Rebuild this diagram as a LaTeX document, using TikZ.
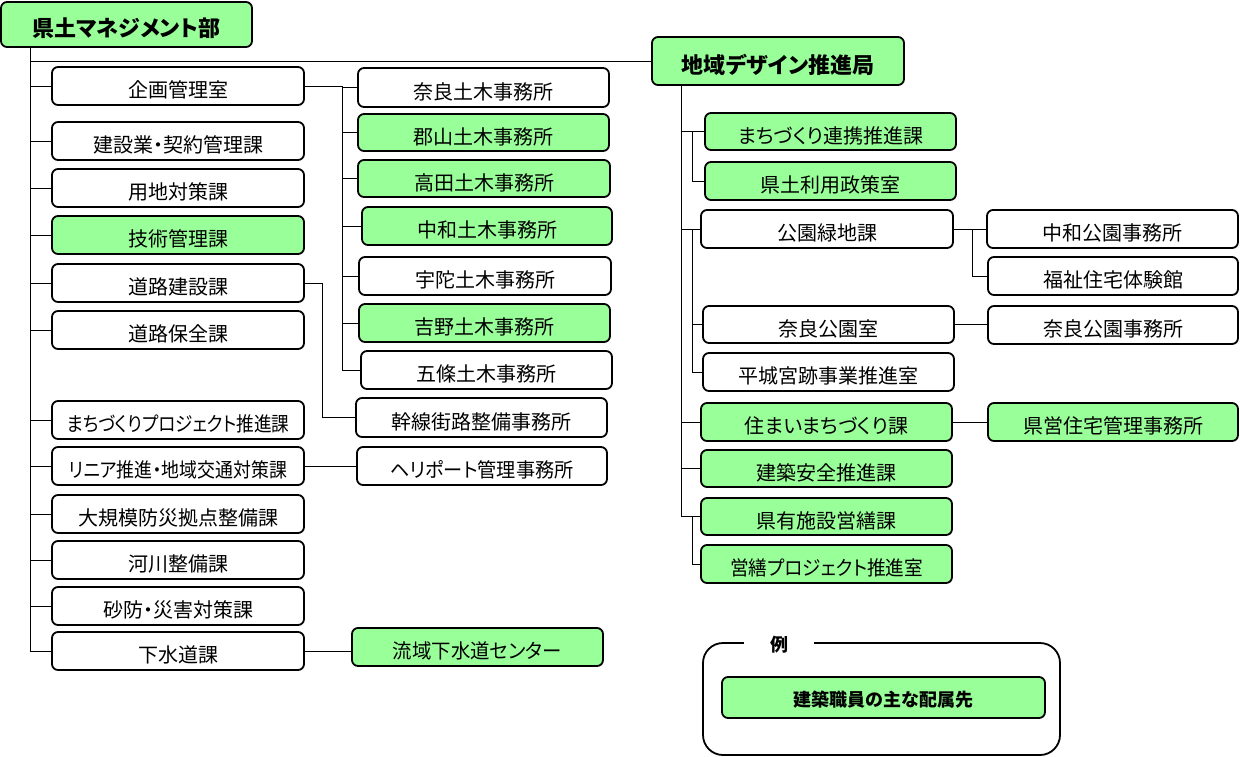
\documentclass[tikz,border=0pt]{standalone}
\usepackage{graphicx}
\usepackage{fontspec}
\setmainfont{Noto Sans CJK JP}[RawFeature={+palt}]
\definecolor{grn}{RGB}{153,255,153}
\tikzset{
  obx/.style={draw=black, line width=1.8pt, rounded corners=6pt, inner sep=0pt, fill=white,
    font=\fontsize{20}{24}\selectfont},
  gbx/.style={obx, fill=grn},
  hbx/.style={gbx, font=\fontsize{22}{26}\selectfont\bfseries},
  conn/.style={line width=1pt, line cap=rect},
}
\newsavebox\myfitbox
\newcommand\fitw[2]{\sbox\myfitbox{#2}\ifdim\wd\myfitbox>#1\relax\resizebox{#1}{\ht\myfitbox}{\usebox\myfitbox}\else\usebox\myfitbox\fi}
\newcommand\obox[7]{\node[#6, minimum width={#4-#2}, minimum height={#5-#3}] (#1) at ({(#2+#4)/2},{(#3+#5)/2}) {\raisebox{-4pt}[\height][\depth]{#7}};}
\begin{document}
\begin{tikzpicture}[x=1pt,y=-1pt]
\useasboundingbox (0,0) rectangle (1240,756);
\coordinate (trunkL) at (30,0);
\coordinate (midA) at (342,0);
\coordinate (midB) at (322,0);
\coordinate (trunkR) at (681,0);
\coordinate (subR) at (692,0);
\coordinate (farR) at (972,0);
% title
\obox{title}{1}{2}{252}{47}{hbx}{県土マネジメント部}
\obox{chiiki}{652}{37}{904}{85}{hbx}{地域デザイン推進局}
% left column
\obox{kikaku}{52}{67}{304}{105}{obx}{企画管理室}
\obox{kensetsu}{52}{122}{304}{160}{obx}{建設業・契約管理課}
\obox{youchi}{52}{169}{304}{207}{obx}{用地対策課}
\obox{gijutsu}{52}{216}{304}{254}{gbx}{技術管理課}
\obox{douro}{52}{264}{304}{302}{obx}{道路建設課}
\obox{hozen}{52}{311}{304}{349}{obx}{道路保全課}
\obox{machi}{52}{401}{304}{439}{obx}{\fitw{223pt}{まちづくりプロジェクト推進課}}
\obox{linear}{52}{447}{304}{485}{obx}{\fitw{218pt}{リニア推進・地域交通対策課}}
\obox{bousai}{52}{495}{304}{533}{obx}{大規模防災拠点整備課}
\obox{kasen}{52}{541}{304}{579}{obx}{河川整備課}
\obox{sabou}{52}{587}{304}{625}{obx}{砂防・災害対策課}
\obox{gesui}{52}{632}{304}{670}{obx}{下水道課}
% middle column
\obox{nara}{358}{68}{609}{107}{obx}{奈良土木事務所}
\obox{kooriyama}{358}{114}{609}{151}{gbx}{郡山土木事務所}
\obox{takada}{358}{160}{610}{197}{gbx}{高田土木事務所}
\obox{chuwa}{362}{207}{612}{245}{gbx}{中和土木事務所}
\obox{uda}{359}{257}{611}{295}{obx}{宇陀土木事務所}
\obox{yoshino}{359}{304}{610}{342}{gbx}{吉野土木事務所}
\obox{gojo}{361}{351}{612}{389}{obx}{五條土木事務所}
\obox{kansen}{356}{398}{607}{437}{obx}{幹線街路整備事務所}
\obox{heli}{357}{447}{607}{485}{obx}{\fitw{183pt}{ヘリポート管理事務所}}
\obox{ryuiki}{352}{628}{603}{666}{gbx}{\fitw{169pt}{流域下水道センター}}
% right column
\obox{renkei}{705}{113}{956}{150}{gbx}{まちづくり連携推進課}
\obox{kendo}{705}{162}{956}{200}{gbx}{県土利用政策室}
\obox{kouen}{701}{210}{953}{248}{obx}{公園緑地課}
\obox{narakouen}{703}{306}{954}{343}{obx}{奈良公園室}
\obox{heijo}{703}{353}{954}{391}{obx}{平城宮跡事業推進室}
\obox{sumai}{701}{403}{952}{441}{gbx}{住まいまちづくり課}
\obox{kenchiku}{701}{450}{952}{487}{gbx}{建築安全推進課}
\obox{kenyu}{701}{498}{952}{535}{gbx}{県有施設営繕課}
\obox{eizen}{701}{545}{952}{583}{gbx}{\fitw{193pt}{営繕プロジェクト推進室}}
% far right
\obox{chuwakouen}{987}{210}{1238}{248}{obx}{中和公園事務所}
\obox{fukushi}{988}{257}{1238}{295}{obx}{福祉住宅体験館}
\obox{narajim}{988}{306}{1238}{344}{obx}{奈良公園事務所}
\obox{kenei}{988}{403}{1238}{441}{gbx}{県営住宅管理事務所}
% connectors left
\draw[conn] (title.south -| trunkL) -- (gesui.west -| trunkL);
\draw[conn] (chiiki.west -| trunkL) -- (chiiki.west);
\foreach \n in {kikaku,kensetsu,youchi,gijutsu,douro,hozen,machi,linear,bousai,kasen,sabou,gesui}
  \draw[conn] (\n.west -| trunkL) -- (\n.west);
\draw[conn] (kikaku.east) -- (kikaku.east -| midA) -- (gojo.west -| midA);
\foreach \n in {nara,kooriyama,takada,chuwa,uda,yoshino,gojo}
  \draw[conn] (\n.west -| midA) -- (\n.west);
\draw[conn] (douro.east) -- (douro.east -| midB) -- (kansen.west -| midB) -- (kansen.west);
\draw[conn] (linear.east) -- (linear.east -| heli.west);
\draw[conn] (gesui.east) -- (gesui.east -| ryuiki.west);
% connectors right
\draw[conn] (chiiki.south -| trunkR) -- (kenyu.west -| trunkR);
\foreach \n in {renkei,kouen,sumai,kenchiku,kenyu}
  \draw[conn] (\n.west -| trunkR) -- (\n.west);
\draw[conn] (renkei.west -| subR) -- (kendo.west -| subR) -- (kendo.west);
\draw[conn] (kouen.west -| subR) -- (heijo.west -| subR) -- (heijo.west);
\draw[conn] (narakouen.west -| subR) -- (narakouen.west);
\draw[conn] (kenyu.west -| subR) -- (eizen.west -| subR) -- (eizen.west);
\draw[conn] (kouen.east) -- (kouen.east -| chuwakouen.west);
\draw[conn] (kouen.east -| farR) -- (fukushi.west -| farR) -- (fukushi.west);
\draw[conn] (narakouen.east) -- (narakouen.east -| narajim.west);
\draw[conn] (sumai.east) -- (sumai.east -| kenei.west);
% legend
\node[draw=black, line width=1.8pt, rounded corners=20pt, minimum width=357, minimum height=112, inner sep=0pt] (legend) at (881.5,699) {};
\node[fill=white, inner xsep=26pt, inner ysep=2pt, font=\fontsize{18}{20}\selectfont\bfseries] (rei) at (779,645) {例};
\node[gbx, rounded corners=6pt, minimum width=323, minimum height=41, font=\fontsize{18}{22}\selectfont\bfseries] (sample) at (883.5,697.5) {\raisebox{-2pt}[\height][\depth]{建築職員の主な配属先}};
\end{tikzpicture}
\end{document}
